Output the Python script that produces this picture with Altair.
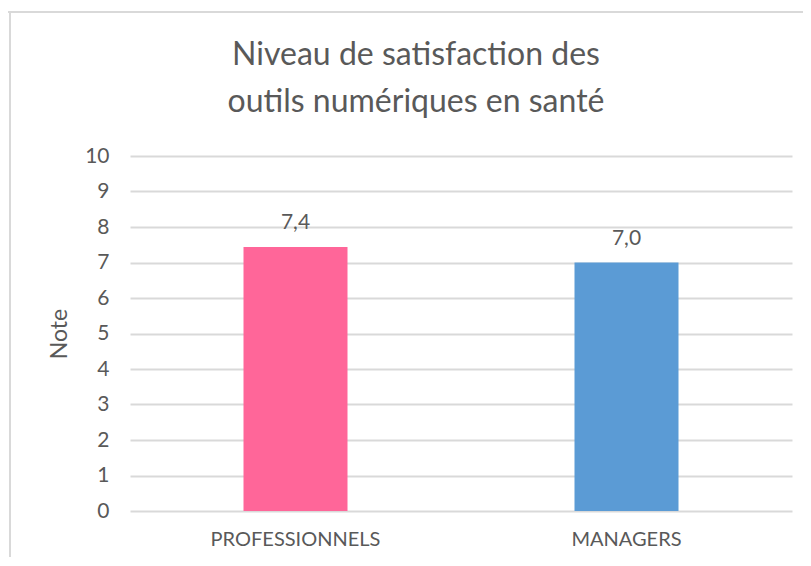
import altair as alt
import pandas as pd

categories = ["PROFESSIONNELS", "MANAGERS"]
values = [7.44, 7.0]
labels = ["7,4", "7,0"]
colors = ["#FF6699", "#5B9BD5"]
y_ticks = [0, 1, 2, 3, 4, 5, 6, 7, 8, 9, 10]

df = pd.DataFrame({"cat": categories, "value": values, "label": labels, "color": colors})

FONT = "Lato"
TXT = "#595959"
GRID = "#D9D9D9"

x_enc = alt.X("cat:N", sort=categories, title=None,
              axis=alt.Axis(labelAngle=0, ticks=False, domain=False, labelPadding=18,
                            labelFontSize=20, labelColor=TXT, labelFont=FONT))
y_enc = alt.Y("value:Q", scale=alt.Scale(domain=[0, 10], nice=False),
              title="Note",
              axis=alt.Axis(values=y_ticks, tickCount=11, ticks=False, domain=False,
                            labelOverlap=False, labelFlush=False,
                            grid=True, gridColor=GRID, gridWidth=2, labelPadding=21,
                            labelFontSize=21, labelColor=TXT, labelFont=FONT,
                            titleFontSize=23, titleColor=TXT, titleFont=FONT,
                            titleFontWeight="normal", titlePadding=13))

base = alt.Chart(df)

bars = base.mark_bar(size=104).encode(
    x=x_enc,
    y=y_enc,
    color=alt.Color("color:N", scale=None),
)

text = base.mark_text(dy=-18, baseline="alphabetic", fontSize=21, color=TXT, font=FONT).encode(
    x=x_enc,
    y=y_enc,
    text="label:N",
)

border_top = alt.Chart(df).mark_rule(color=GRID, strokeWidth=2).encode(
    x=alt.value(-124), x2=alt.value(673), y=alt.value(-144))
border_left = alt.Chart(df).mark_rule(color=GRID, strokeWidth=2).encode(
    x=alt.value(-120), y=alt.value(-144), y2=alt.value(402))

chart = alt.layer(border_top, border_left, bars, text).properties(
    width=662, height=355,
    autosize=alt.AutoSizeParams(type="none"),
    padding={"left": 122, "top": 148, "right": 11, "bottom": 46},
    title=alt.Title(["Niveau de satisfaction des", "outils numériques en santé"],
                    fontSize=32, font=FONT, color=TXT, fontWeight="normal",
                    anchor="middle", offset=0, dx=-45, dy=108, lineHeight=47),
).configure_view(stroke=None)

chart.save("out.html", embed_options={"renderer": "svg", "actions": False})
